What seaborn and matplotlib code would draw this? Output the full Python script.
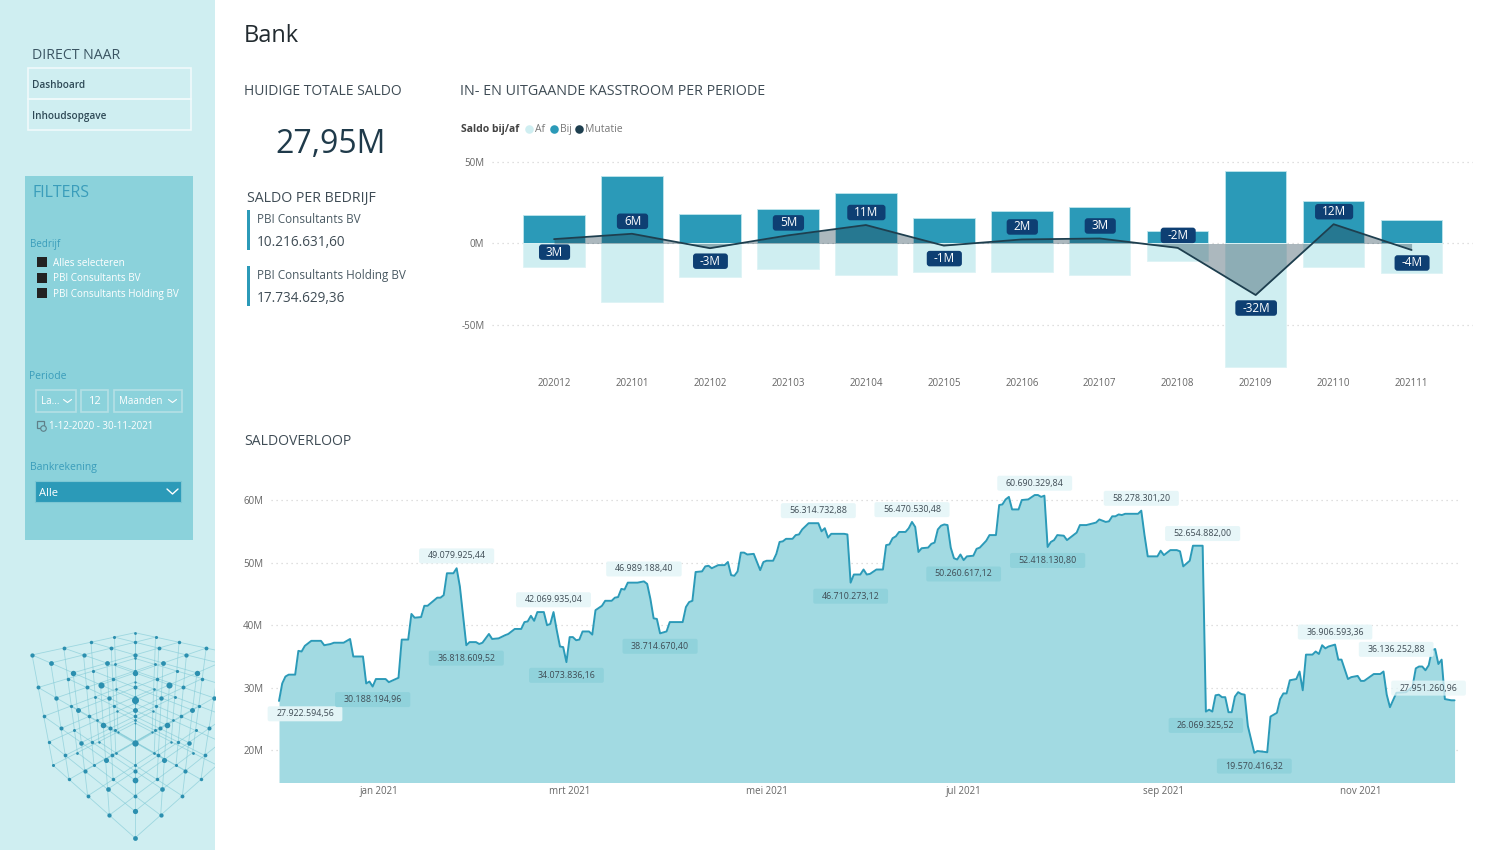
import numpy as np
import pandas as pd
import seaborn as sns
import matplotlib.pyplot as plt
from matplotlib.patches import Rectangle, FancyBboxPatch
from matplotlib.transforms import IdentityTransform

W, H = 1509, 850

periodes = ['202012', '202101', '202102', '202103', '202104', '202105',
            '202106', '202107', '202108', '202109', '202110', '202111']
bij = [17.3, 41.8, 17.9, 21.0, 30.9, 16.0, 19.8, 22.6, 8.0, 44.9, 26.5, 14.6]
af = [-14.6, -35.8, -20.8, -16.0, -19.5, -17.3, -17.3, -19.5, -10.7, -76.5, -14.6, -18.5]
mutatie = [2.7, 6.0, -2.9, 5.0, 11.4, -1.3, 2.5, 3.1, -2.7, -31.8, 11.9, -4.0]
mutatie_labels = ['3M', '6M', '-3M', '5M', '11M', '-1M', '2M', '3M', '-2M', '-32M', '12M', '-4M']
mutatie_boven = [False, True, False, True, True, False, True, True, True, False, True, False]

# dagen sinds 1-12-2020
dagen = [0, 1, 2, 3, 5, 6, 7, 8, 10, 13, 14, 16, 17, 20, 22, 23, 26, 27, 28, 29, 30, 33, 34, 37, 38, 40,
         41, 42, 44, 45, 46, 49, 50, 51, 52, 54, 55, 56, 58, 59, 61, 62, 63, 65, 66, 68, 70, 71, 73, 75,
         76, 77, 78, 79, 80, 82, 83, 84, 85, 86, 87, 88, 89, 90, 91, 92, 93, 94, 96, 97, 98, 100, 101,
         103, 104, 105, 106, 107, 108, 111, 113, 114, 115, 116, 117, 118, 120, 121, 125, 126, 127, 128,
         129, 131, 132, 133, 134, 136, 138, 139, 140, 141, 142, 143, 144, 145, 147, 149, 150, 151, 153,
         154, 155, 156, 157, 159, 160, 161, 162, 164, 167, 168, 169, 170, 171, 175, 176, 177, 178, 180,
         181, 182, 183, 185, 187, 188, 189, 190, 191, 192, 194, 195, 196, 197, 198, 199, 201, 202, 203,
         204, 205, 206, 207, 208, 209, 210, 211, 212, 213, 215, 216, 217, 219, 220, 222, 223, 224, 225,
         226, 227, 229, 230, 232, 234, 235, 236, 237, 238, 239, 240, 241, 243, 244, 246, 247, 248, 250,
         253, 254, 256, 257, 258, 259, 260, 261, 262, 266, 267, 268, 269, 272, 273, 274, 276, 278, 279,
         280, 282, 283, 286, 287, 288, 289, 290, 291, 292, 293, 294, 295, 296, 297, 298, 299, 300, 302,
         303, 306, 307, 308, 309, 310, 311, 312, 313, 315, 316, 317, 318, 320, 321, 322, 323, 324, 325,
         327, 328, 329, 331, 332, 334, 335, 336, 339, 341, 342, 343, 344, 346, 349, 351, 352, 353, 354,
         355, 356, 357, 358, 359, 360, 361, 363, 364]
saldo = [27.9, 30.7, 31.8, 32.1, 32.1, 35.9, 35.8, 36.7, 37.5, 37.5, 36.8, 37.0, 37.2, 37.2, 37.8, 35.0,
         35.0, 30.7, 31.0, 30.2, 31.4, 31.4, 30.9, 31.6, 37.7, 37.7, 41.8, 41.2, 41.3, 43.1, 43.1, 44.4,
         44.4, 44.8, 48.3, 48.3, 49.1, 46.2, 36.8, 37.3, 37.3, 37.0, 37.2, 38.6, 37.8, 37.9, 38.4, 38.6,
         39.4, 39.4, 40.5, 40.6, 41.5, 40.7, 42.1, 42.1, 40.0, 40.2, 42.1, 39.2, 36.6, 36.5, 34.1, 38.1,
         38.1, 37.6, 37.7, 39.0, 39.0, 38.5, 42.4, 43.1, 43.9, 43.9, 44.4, 44.5, 45.8, 45.7, 46.8, 46.8,
         47.0, 46.6, 44.2, 41.1, 41.0, 38.7, 39.0, 40.5, 40.5, 42.9, 43.7, 43.9, 48.5, 48.6, 49.4, 49.5,
         49.1, 49.6, 49.6, 50.1, 48.0, 47.9, 48.6, 51.6, 51.6, 51.3, 51.4, 48.8, 50.1, 50.3, 50.3, 51.4,
         53.3, 53.4, 53.8, 53.8, 54.4, 54.5, 55.3, 56.3, 56.3, 55.0, 55.5, 54.0, 54.6, 54.6, 54.5, 46.8,
         48.1, 48.1, 48.9, 48.1, 48.2, 48.9, 48.9, 52.8, 52.9, 53.9, 54.2, 54.9, 54.9, 55.5, 56.5, 55.7,
         51.7, 52.3, 52.4, 53.0, 53.2, 55.3, 55.9, 56.1, 56.0, 52.4, 50.7, 50.5, 51.3, 50.4, 51.0, 51.1,
         52.2, 52.4, 53.5, 54.4, 54.4, 59.2, 59.3, 60.1, 60.5, 58.5, 58.5, 60.0, 60.1, 60.8, 60.8, 60.5,
         60.7, 52.5, 53.3, 53.6, 54.4, 54.3, 53.6, 54.4, 54.8, 56.0, 56.0, 56.4, 56.9, 56.5, 56.6, 57.4,
         57.4, 57.7, 57.6, 57.8, 57.8, 58.3, 54.4, 51.0, 51.0, 51.9, 51.2, 52.0, 52.0, 51.8, 49.4, 50.3,
         52.7, 52.7, 26.2, 26.5, 26.2, 28.8, 28.9, 28.5, 28.5, 26.1, 26.1, 28.6, 29.3, 29.0, 28.9, 23.9,
         19.6, 19.9, 19.7, 25.4, 25.7, 26.0, 28.2, 29.1, 29.1, 31.2, 31.4, 32.6, 29.6, 35.3, 35.3, 35.8,
         35.4, 36.8, 36.3, 36.6, 36.9, 34.5, 34.5, 31.4, 31.7, 31.9, 31.1, 31.1, 32.2, 32.2, 32.6, 28.9,
         26.9, 29.2, 29.3, 30.2, 33.1, 33.4, 33.4, 32.8, 33.6, 36.0, 36.2, 33.8, 34.5, 28.2, 28.0, 28.0]

piek_teksten = ['27.922.594,56', '30.188.194,96', '49.079.925,44', '36.818.609,52', '42.069.935,04',
                '34.073.836,16', '46.989.188,40', '38.714.670,40', '56.314.732,88', '46.710.273,12',
                '56.470.530,48', '50.260.617,12', '60.690.329,84', '52.418.130,80', '58.278.301,20',
                '52.654.882,00', '26.069.325,52', '19.570.416,32', '36.906.593,36', '36.136.252,88',
                '27.951.260,96']
piek_dagen = [0, 29, 55, 58, 85, 89, 113, 118, 167, 177, 196, 212, 234, 238, 267, 286, 287, 302, 327, 358, 364]
piek_waarden = [27.92, 30.19, 49.08, 36.82, 42.07, 34.07, 46.99, 38.71, 56.31, 46.71, 56.47, 50.26, 60.69,
                52.42, 58.28, 52.65, 26.07, 19.57, 36.91, 36.14, 27.95]
piek_boven = [False, False, True, False, True, False, True, False, True, False, True, False, True, False,
              True, True, False, False, True, True, True]

maand_ticks = ['2021-01-01', '2021-03-01', '2021-05-01', '2021-07-01', '2021-09-01', '2021-11-01']
maand_labels = ['jan 2021', 'mrt 2021', 'mei 2021', 'jul 2021', 'sep 2021', 'nov 2021']
saldo_ticks = [20, 30, 40, 50, 60]
kas_ticks = [-50, 0, 50]

LICHT = '#CFEEF1'
PANEEL = '#8BD2DB'
BLAUW = '#2B9AB8'
DONKER = '#1E3F4F'
LABEL = '#0E3F73'
GRIJS = '#666666'
TITEL = '#3F4C55'

sns.set_theme(style='white')
plt.rcParams['font.family'] = ['Open Sans', 'DejaVu Sans']

fig = plt.figure(figsize=(W / 100, H / 100), dpi=100, facecolor='white')
renderer = fig.canvas.get_renderer()


def px_axes(x0, y0, x1, y1):
    return fig.add_axes([x0 / W, 1 - y1 / H, (x1 - x0) / W, (y1 - y0) / H], facecolor='none')


bg = fig.add_axes([0, 0, 1, 1])
bg.set_xlim(0, W)
bg.set_ylim(H, 0)
bg.axis('off')


def box(x0, y0, x1, y1, fc='none', ec='none', lw=1.0):
    p = Rectangle((x0, y0), x1 - x0, y1 - y0, facecolor=fc, edgecolor=ec, linewidth=lw)
    bg.add_patch(p)
    return p


def txt(x, y, s, size=8, color=TITEL, ha='left', **kw):
    # Open Sans staat iets te hoog bij va=center
    bg.text(x, y + 1.5, s, fontsize=size, color=color, ha=ha, va='center', **kw)


def chevron(x, y, w=4, h=3, color='white', lw=0.8):
    bg.plot([x - w, x, x + w], [y - h / 2, y + h / 2, y - h / 2], color=color, lw=lw)


def pil(ax, ann, padx, hoogte, kleur, straal=3, alpha=1.0):
    # afgerond vlak achter een label, breder dan hoog zoals in Power BI
    bb = ann.get_window_extent(renderer)
    midden = (bb.y0 + bb.y1) / 2
    p = FancyBboxPatch((bb.x0 - padx, midden - hoogte / 2), bb.width + 2 * padx, hoogte,
                       boxstyle=f'round,pad=0,rounding_size={straal}', facecolor=kleur, edgecolor='none',
                       alpha=alpha, transform=IdentityTransform(), clip_on=False, zorder=ann.get_zorder() - 0.5)
    ax.add_artist(p)


# zijbalk
zijbalk = box(0, 0, 215, H, fc=LICHT)
txt(32, 53.5, 'DIRECT NAAR', 10.2, '#3B5563')
box(28, 68, 191, 99, ec='#F0FAFB', lw=1.2)
box(28, 99, 191, 130, ec='#F0FAFB', lw=1.2)
txt(32, 83.5, 'Dashboard', 7.2, '#2F4A57', fontweight='semibold')
txt(32, 115, 'Inhoudsopgave', 7.2, '#2F4A57', fontweight='semibold')

box(25, 176, 193, 540, fc=PANEEL)
txt(33, 191, 'FILTERS', 11.5, '#3A9DBB')
txt(30, 243, 'Bedrijf', 7, '#3A9DBB')
for y, s in zip([262, 277.5, 293], ['Alles selecteren', 'PBI Consultants BV', 'PBI Consultants Holding BV']):
    box(37, y - 5, 47, y + 5, fc='#222222')
    txt(53, y - 0.5, s, 7.1, 'white')
txt(29, 375, 'Periode', 7.5, '#3A9DBB')
for x0, x1 in [(36, 76), (81, 108), (114, 182)]:
    box(x0, 390, x1, 412, ec='#B5E0E5', lw=1.2)
txt(41, 400, 'La...', 7, 'white')
txt(94, 400, '12', 8, 'white', ha='center')
txt(119, 400, 'Maanden', 7, 'white')
chevron(67.5, 401)
chevron(172.5, 401)
box(37, 421, 44, 428, ec='#5F7F88', lw=0.9)
bg.scatter([42.5], [428], s=16, facecolor=PANEEL, edgecolor='#5F7F88', linewidth=0.8, zorder=3)
txt(49, 424.5, '1-12-2020 - 30-11-2021', 7, 'white')
txt(30, 466, 'Bankrekening', 7.5, '#3A9DBB')
box(35, 481, 181, 502, fc=BLAUW, ec='#7CC7D4', lw=0.8)
txt(39, 492, 'Alle', 8, 'white')
chevron(172.5, 491.5, w=5.5, h=5, lw=1.0)

# kubus als decoratie, perspectief uit de hoekpunten bepaald
n = 4


def kubus_punt(i, j, k):
    a, b, c = i / n, j / n, k / n
    w = 1 - 0.252 * (a + b) + 0.191 * c
    return 135 + 77.0 * (a - b) / w, (632.7 - 142.8 * (a + b) + 228.6 * c) / w, w


for i in range(n + 1):
    for j in range(n + 1):
        for k in range(n + 1):
            x, y, w = kubus_punt(i, j, k)
            for d in [(1, 0, 0), (0, 1, 0), (0, 0, 1)]:
                i2, j2, k2 = i + d[0], j + d[1], k + d[2]
                if max(i2, j2, k2) <= n:
                    x2, y2, _ = kubus_punt(i2, j2, k2)
                    ln, = bg.plot([x, x2], [y, y2], color='#7CC7D4', lw=0.6, alpha=0.6, zorder=2)
                    ln.set_clip_path(zijbalk)
            sc = bg.scatter([x], [y], s=7 / w ** 2 - 3, color='#2B8FAF', linewidth=0, zorder=3)
            sc.set_clip_path(zijbalk)

# teksten hoofdpagina
txt(244, 34.5, 'Bank', 17, '#222B30')
txt(244, 90, 'HUIDIGE TOTALE SALDO', 10, TITEL)
txt(331, 143, '27,95M', 23, '#1F3A4A', ha='center')
txt(247, 197, 'SALDO PER BEDRIJF', 10.2, TITEL)
box(247, 210, 249.5, 250, fc=BLAUW)
box(247, 266, 249.5, 306, fc=BLAUW)
txt(257, 218, 'PBI Consultants BV', 8.5, '#4A5A63')
txt(257, 241, '10.216.631,60', 9.8, TITEL)
txt(257, 274, 'PBI Consultants Holding BV', 8.5, '#4A5A63')
txt(257, 297, '17.734.629,36', 9.8, TITEL)
txt(460, 89.5, 'IN- EN UITGAANDE KASSTROOM PER PERIODE', 10.3, TITEL)
txt(244, 440, 'SALDOVERLOOP', 10.1, TITEL)

# legenda
txt(461, 127.5, 'Saldo bij/af', 7.5, '#444444', fontweight='bold')
for x, c, s in [(529, LICHT, 'Af'), (554, BLAUW, 'Bij'), (579, DONKER, 'Mutatie')]:
    bg.scatter([x], [128.5], s=38, color=c, linewidth=0)
    txt(x + 6, 127.5, s, 7.5, '#777777')

# kasstroom
ax1 = px_axes(492, 150, 1473, 372)
sns.barplot(x=periodes, y=bij, color=BLAUW, width=0.788, saturation=1, ax=ax1, zorder=2,
            edgecolor='#BFE6EC', linewidth=0.6)
sns.barplot(x=periodes, y=af, color=LICHT, width=0.788, saturation=1, ax=ax1, zorder=2,
            edgecolor='#DDF3F5', linewidth=0.6)
pos = np.arange(len(periodes))
ax1.fill_between(pos, mutatie, 0, color=DONKER, alpha=0.37, linewidth=0, zorder=3)
sns.lineplot(x=pos, y=mutatie, color=DONKER, linewidth=1.3, ax=ax1, zorder=4)
ax1.set_xlim(-0.796, 11.788)
ax1.set_ylim(-79.3, 57.7)
for p, m, s, boven in zip(pos, mutatie, mutatie_labels, mutatie_boven):
    ann = ax1.annotate(s, (p, m), xytext=(0.5, 12.5 if boven else -13), textcoords='offset pixels', ha='center',
                       va='center', fontsize=8.5, color='white', zorder=6)
    pil(ax1, ann, 7, 15.5, LABEL)
ax1.set_yticks(kas_ticks)
ax1.set_yticklabels([f'{t}M' for t in kas_ticks])
ax1.set_xlabel('')
ax1.set_ylabel('')
ax1.tick_params(axis='x', length=0, pad=4, labelsize=7, labelcolor=GRIJS)
ax1.tick_params(axis='y', length=0, pad=5.5, labelsize=7, labelcolor=GRIJS)
ax1.grid(axis='y', color='#D5D5D5', linestyle=(0, (1, 3)), linewidth=0.9, zorder=0)
ax1.set_axisbelow(True)
sns.despine(ax=ax1, left=True, bottom=True)

# saldoverloop
start = pd.Timestamp('2020-12-01')
df = pd.DataFrame({'datum': start + pd.to_timedelta(dagen, unit='D'), 'saldo': saldo})
ax2 = px_axes(271, 470, 1461, 782.3)
ax2.fill_between(df['datum'], df['saldo'], 0, color='#A2DAE2', linewidth=0, zorder=2)
sns.lineplot(data=df, x='datum', y='saldo', color=BLAUW, linewidth=1.4, ax=ax2, zorder=3)
ax2.set_xlim(start + pd.Timedelta(days=-2.48), start + pd.Timedelta(days=366))
ax2.set_ylim(14.9, 64.8)
# labels die tegen de rand of elkaar aan zouden vallen schuiven opzij
piek_opzij = {0: (26, -13), 19: (-39, 0), 20: (-26, 12.5)}
for i, (s, d, v, boven) in enumerate(zip(piek_teksten, piek_dagen, piek_waarden, piek_boven)):
    licht = boven or i == 0
    xy = piek_opzij.get(i, (0, 12.5 if boven else -13))
    ann = ax2.annotate(s, (start + pd.Timedelta(days=d), v), xytext=xy, textcoords='offset pixels', ha='center',
                       va='center', fontsize=6.4, color='#3F4C55', zorder=5)
    pil(ax2, ann, 8.5, 15, '#E6F6F8' if licht else '#8FD2DB', straal=2, alpha=0.75 if i == 20 else 0.95)
ax2.set_xticks(pd.to_datetime(maand_ticks))
ax2.set_xticklabels(maand_labels)
ax2.set_yticks(saldo_ticks)
ax2.set_yticklabels([f'{t}M' for t in saldo_ticks])
ax2.set_xlabel('')
ax2.set_ylabel('')
ax2.tick_params(axis='x', length=0, pad=3, labelsize=7, labelcolor=GRIJS)
ax2.tick_params(axis='y', length=0, pad=5.5, labelsize=7, labelcolor=GRIJS)
ax2.grid(axis='y', color='#D5D5D5', linestyle=(0, (1, 3)), linewidth=0.9, zorder=0)
ax2.set_axisbelow(True)
sns.despine(ax=ax2, left=True, bottom=True)

fig.savefig('out.png', dpi=100)
plt.close(fig)
